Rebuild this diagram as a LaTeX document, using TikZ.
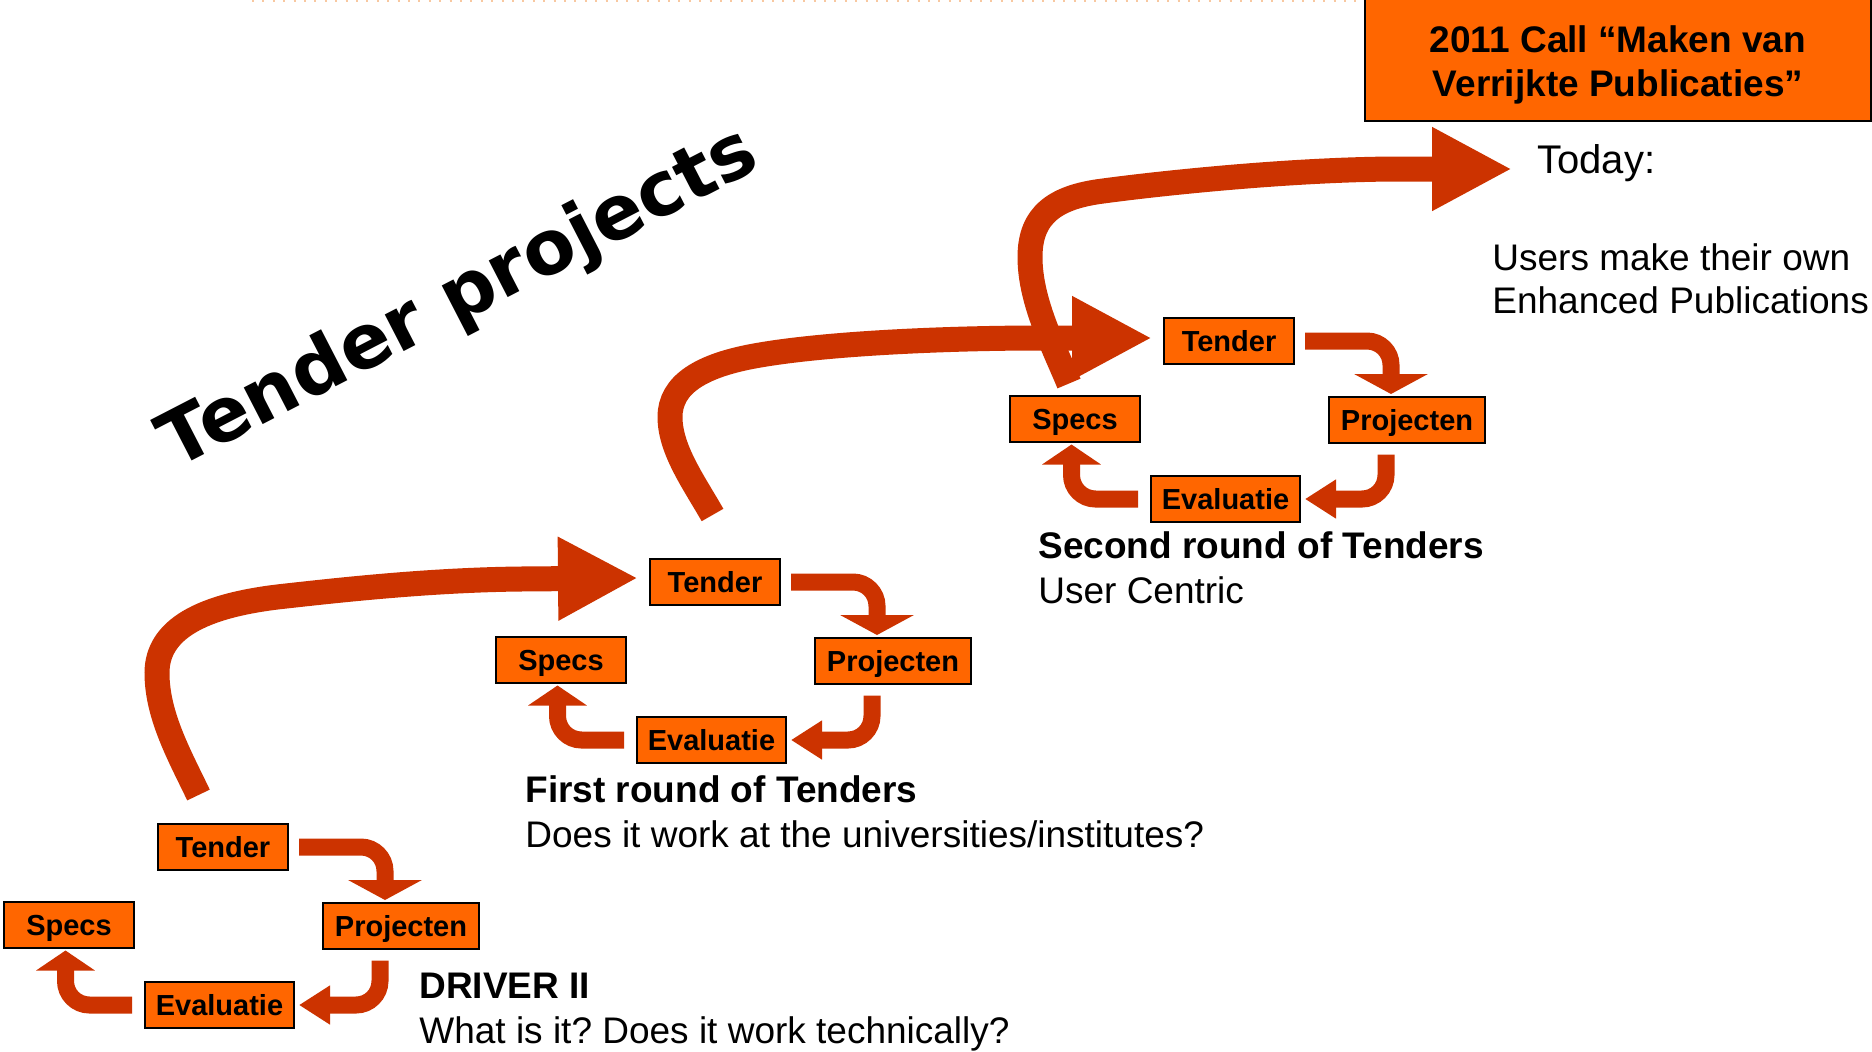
\documentclass[tikz,border=0pt]{standalone}
\usepackage{fontspec}
\setmainfont{Liberation Sans}
\newfontfamily\headfont{DejaVu Sans}
\usetikzlibrary{positioning,arrows.meta}
\frenchspacing

\definecolor{boxorange}{RGB}{255,102,0}
\definecolor{arrowred}{RGB}{204,51,0}
\definecolor{dotorange}{RGB}{248,200,160}

\begin{document}
\begin{tikzpicture}[x=0.5pt,y=-0.5pt,on grid,
		stagebox/.style={rectangle,draw=black,line width=1pt,fill=boxorange,inner sep=0pt,
			minimum height=23pt,text height=10.5pt,text depth=0pt,font=\bfseries\fontsize{14.5}{17}\selectfont},
		cycarrow/.style={draw=arrowred,line width=8.5pt,rounded corners=12pt},
		bigarrow/.style={draw=arrowred,line width=12.5pt,-{Triangle[length=40pt,width=39pt]}},
		roundlabel/.style={inner sep=0pt,anchor=base west,font=\fontsize{18.5}{22}\selectfont},
		roundhead/.style={roundlabel,font=\bfseries\fontsize{18.5}{22}\selectfont}]
		\path[use as bounding box,fill=white] (0,0) rectangle (1872,1051);
		
		\draw[dotorange,line width=1pt,dash pattern=on 1pt off 4.2pt] (252,1) -- (1364,1);
		
		% call box top right
		\fill[boxorange,draw=black,line width=1pt] (1365,-10) rectangle (1871,121);
		\node[align=center,inner sep=0pt,font=\bfseries\fontsize{18.5}{22}\selectfont] (call) at (1618,65)
			{2011 Call “Maken van\\Verrijkte Publicaties”};
		
		\node[rotate=27.3,anchor=base west,inner sep=0pt,font=\headfont\bfseries\fontsize{37.7}{40}\selectfont]
			(heading) at (175,470) {Tender projects};
		
		% the three tender cycles
		\foreach \i/\x/\y in {1/223/847, 2/715/582, 3/1229/341} {
			\node[stagebox,minimum width=65pt]   (tender\i) at (\x,\y)                          {Tender};
			\node[stagebox,minimum width=65pt]   (specs\i)  [below left=38.75pt and 77pt of tender\i]  {Specs};
			\node[stagebox,minimum width=78pt]   (proj\i)   [below right=39.25pt and 89pt of tender\i] {Projecten};
			\node[stagebox,minimum width=74.5pt] (eval\i)   [below left=79pt and 1.75pt of tender\i]   {Evaluatie};
			
			\draw[cycarrow,-{Triangle[length=10pt,width=36.5pt]}]
				([xshift=5pt]tender\i.east) -| ([xshift=-8pt,yshift=0.75pt]proj\i.north);
			\draw[cycarrow,-{Triangle[length=15.5pt,width=18.5pt]}]
				([xshift=-10.5pt,yshift=-5.5pt]proj\i.south) |- ([xshift=2pt]eval\i.east);
			\draw[cycarrow,-{Triangle[length=10pt,width=29pt]}]
				([xshift=-6pt]eval\i.west) -| ([xshift=-1.75pt,yshift=-1pt]specs\i.south);
		}
		
		\coordinate (now) at (1512,169);
		
		% big arrows from round to round
		\draw[bigarrow] ([xshift=-12.25pt,yshift=14pt]tender1.north)
			.. controls (180.4,757) and (157,716) .. (157,673)
			.. controls (157,630) and (200,605) .. (286,596)
			.. controls (340,590) and (430,580) .. (520,579)
			-- ([xshift=-5.5pt,yshift=2pt]tender2.west);
		\draw[bigarrow] ([xshift=-1.25pt,yshift=21.5pt]tender2.north)
			.. controls (695,484) and (670,450) .. (670,417)
			.. controls (670,385) and (700,365) .. (760,355)
			.. controls (830,343) and (950,338) .. (1040,338)
			-- ([xshift=-5.5pt,yshift=1.5pt]tender3.west);
		\draw[bigarrow] ([xshift=-3pt,yshift=5.5pt]specs3.north)
			.. controls (1052,343) and (1030,300) .. (1030,257)
			.. controls (1030,215) and (1055,197) .. (1103,191)
			.. controls (1170,182) and (1300,169) .. (1400,169)
			-- (now);
		
		% texts
		\node[roundhead]  (driver)     at (419,998)                       {DRIVER II};
		\node[roundlabel] (drivertext) at ([yshift=-22.5pt]driver.base west) {What is it? Does it work technically?};
		\node[roundhead]  (first)      at (525,802)                       {First round of Tenders};
		\node[roundlabel] (firsttext)  at ([yshift=-22.5pt]first.base west)  {Does it work at the universities/institutes?};
		\node[roundhead]  (second)     at (1038,558)                      {Second round of Tenders};
		\node[roundlabel] (secondtext) at ([yshift=-22.5pt]second.base west) {User Centric};
		
		\node[roundlabel,font=\fontsize{20}{24}\selectfont] (today) at (1537,173) {Today:};
		\node[roundlabel] (users)    at (1492,270)                     {Users make their own};
		\node[roundlabel] (enhanced) at ([yshift=-21.5pt]users.base west) {Enhanced Publications};
\end{tikzpicture}
\end{document}
